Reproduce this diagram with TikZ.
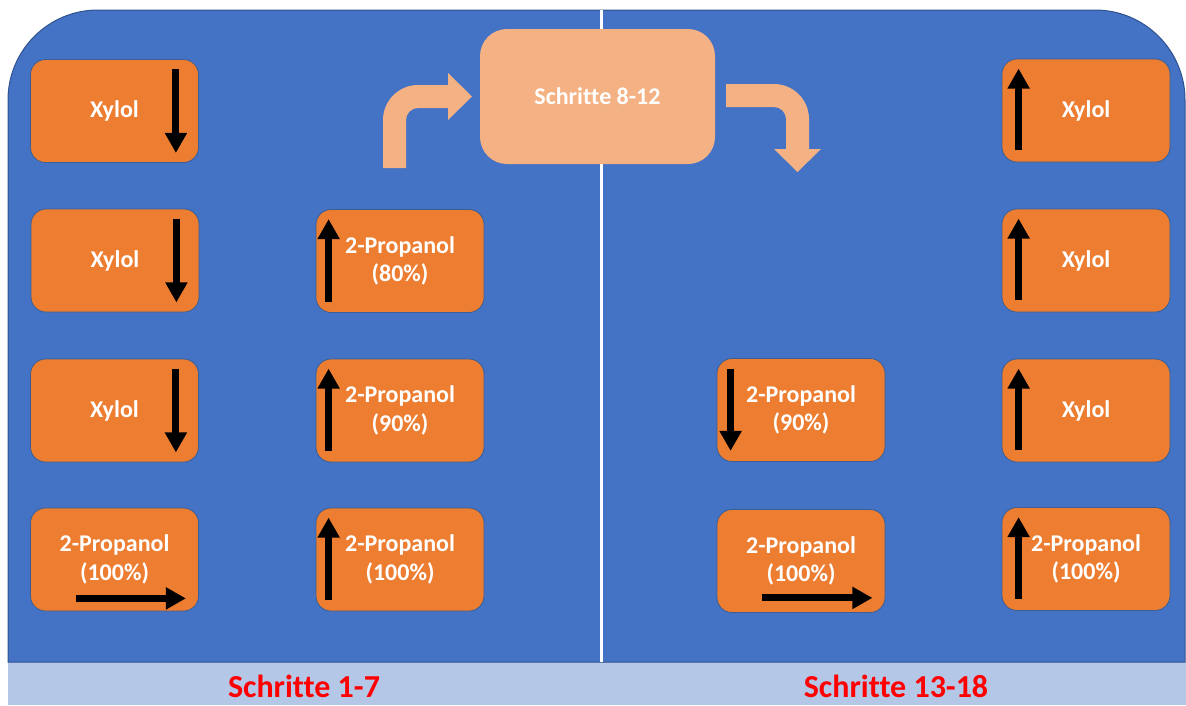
\documentclass[tikz,border=0pt]{standalone}
\usepackage{fontspec}
\setmainfont{Carlito}[Ligatures=NoCommon]
\usetikzlibrary{arrows.meta,calc}
\definecolor{bgblue}{HTML}{4472C4}
\definecolor{bgborder}{HTML}{2F528F}
\definecolor{strip}{HTML}{B4C7E7}
\definecolor{boxorange}{HTML}{ED7D31}
\definecolor{lightorange}{HTML}{F4B183}
\definecolor{boxborder}{HTML}{3A5F95}
\definecolor{labelred}{HTML}{FF0000}
\tikzset{
  stepbox/.style={draw=boxborder, line width=0.8pt, fill=boxorange, rounded corners=15pt,
    minimum width=168pt, minimum height=103pt, inner sep=0pt, align=center,
    text=white, font=\fontsize{24}{28.5}\selectfont\bfseries},
  bigbox/.style={fill=lightorange, rounded corners=27pt, minimum width=235pt,
    minimum height=135pt, inner sep=0pt, text=white, font=\fontsize{24}{28}\selectfont\bfseries},
  dirarrow/.style={line width=7pt, -{Triangle[width=21pt,length=20pt]}},
  steplabel/.style={text=labelred, font=\fontsize{32}{36}\selectfont\bfseries, anchor=base, inner sep=0pt}
}
\begin{document}
\begin{tikzpicture}[x=1pt,y=-1pt]
\useasboundingbox (0,0) rectangle (1186,705);
% background
\fill[strip] (8,662) rectangle (1186,705);
\path[fill=bgblue, draw=bgborder, line width=1pt]
  (8,662) -- (8,100) .. controls (8,50.3) and (48.3,10) .. (98,10)
  -- (1095,10) .. controls (1144.7,10) and (1185,50.3) .. (1185,100)
  -- (1185,662) -- cycle;
\draw[white, line width=3pt] (601,10) -- (601,662);
% bottom labels
\node[steplabel] (l1) at (304,697) {Schritte 1-7};
\node[steplabel] (l2) at (896,697) {Schritte 13-18};
% boxes
\node[stepbox] (a1) at (114.5,111) {Xylol};
\node[stepbox] (a2) at (115,260.5) {Xylol};
\node[stepbox] (a3) at (114.5,410.5) {Xylol};
\node[stepbox] (a4) at (114.5,559.5) {2-Propanol\\(100\%)};
\node[stepbox] (b2) at (400,261) {2-Propanol\\(80\%)};
\node[stepbox] (b3) at (400,410.5) {2-Propanol\\(90\%)};
\node[stepbox] (b4) at (400,559.5) {2-Propanol\\(100\%)};
\node[stepbox] (c3) at (801,410) {2-Propanol\\(90\%)};
\node[stepbox] (c4) at (801,561) {2-Propanol\\(100\%)};
\node[stepbox] (d1) at (1086,110.5) {Xylol};
\node[stepbox] (d2) at (1086,260.5) {Xylol};
\node[stepbox] (d3) at (1086,410.5) {Xylol};
\node[stepbox] (d4) at (1086,559) {2-Propanol\\(100\%)};
\node[bigbox] (s) at (597.5,96.5) {Schritte 8-12};
% direction arrows inside boxes
\foreach \b in {a1,a2,a3}{
  \draw[dirarrow] ($(\b.north east)+(-23,10)$) -- ($(\b.south east)+(-23,-10)$);
}
\foreach \b in {d1,d2,d3,d4}{
  \draw[dirarrow] ($(\b.south west)+(17,-12)$) -- ($(\b.north west)+(17,10)$);
}
\foreach \b in {b2,b3,b4}{
  \draw[dirarrow] ($(\b.south west)+(13,-11)$) -- ($(\b.north west)+(13,10)$);
}
\draw[dirarrow] ($(c3.north west)+(14,11)$) -- ($(c3.south west)+(14,-11)$);
\draw[dirarrow] ($(a4.south west)+(46,-13)$) -- ($(a4.south east)+(-13,-13)$);
\draw[dirarrow] ($(c4.south west)+(45,-15)$) -- ($(c4.south east)+(-13,-15)$);
% bent arrows
\fill[lightorange] (383,168) -- (383,120) .. controls (383,100.7) and (398.7,85) .. (418,85)
  -- (448,85) -- (448,73) -- (472,96.5) -- (448,120) -- (448,108) -- (418,108)
  .. controls (411.4,108) and (406,113.4) .. (406,120) -- (406,168) -- cycle;
\fill[lightorange] (726,84) -- (774,84) .. controls (793.3,84) and (809,99.7) .. (809,119)
  -- (809,149) -- (821,149) -- (797.5,172) -- (774,149) -- (786,149) -- (786,119)
  .. controls (786,112.4) and (780.6,107) .. (774,107) -- (726,107) -- cycle;
\end{tikzpicture}
\end{document}
